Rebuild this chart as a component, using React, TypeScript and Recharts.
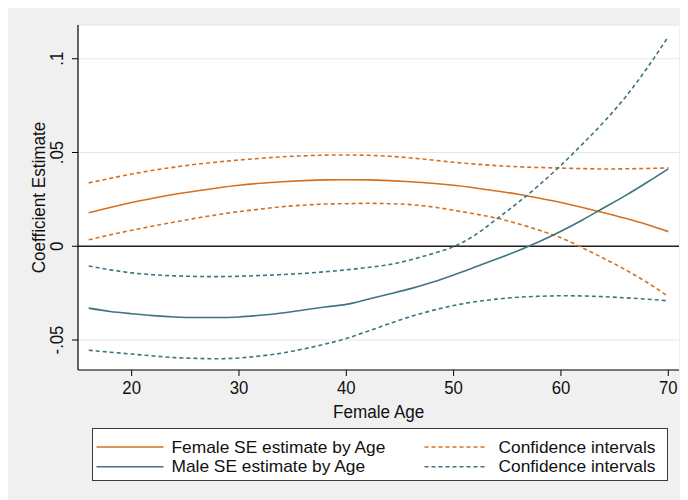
import React from 'react';
import { ComposedChart, Line, XAxis, YAxis, CartesianGrid, ReferenceLine, Legend } from 'recharts';

const ages = [16, 18, 20, 22, 24, 26, 28, 30, 32, 34, 36, 38, 40, 42, 44, 46, 48, 50, 52, 54, 56, 58, 60, 62, 64, 66, 68, 70];

const femaleEst = [0.0179, 0.0207, 0.0233, 0.0256, 0.0277, 0.0295, 0.0311, 0.0325, 0.0336, 0.0344, 0.0350, 0.0354, 0.0355, 0.0354, 0.0350, 0.0344, 0.0336, 0.0325, 0.0311, 0.0295, 0.0277, 0.0256, 0.0233, 0.0207, 0.0179, 0.0149, 0.0116, 0.0078];
const femaleUpper = [0.0338, 0.0362, 0.0385, 0.0405, 0.0422, 0.0437, 0.0449, 0.0460, 0.0469, 0.0477, 0.0482, 0.0486, 0.0487, 0.0485, 0.0480, 0.0471, 0.0460, 0.0448, 0.0438, 0.0430, 0.0424, 0.0420, 0.0417, 0.0414, 0.0412, 0.0413, 0.0415, 0.0418];
const femaleLower = [0.0034, 0.0061, 0.0085, 0.0108, 0.0129, 0.0150, 0.0168, 0.0185, 0.0198, 0.0211, 0.0219, 0.0225, 0.0227, 0.0229, 0.0227, 0.0222, 0.0210, 0.0192, 0.0172, 0.0150, 0.0120, 0.0085, 0.0045, -0.0008, -0.0065, -0.0125, -0.0192, -0.0268];

const maleEst = [-0.0330, -0.0348, -0.0360, -0.0370, -0.0377, -0.0380, -0.0380, -0.0377, -0.0368, -0.0356, -0.0340, -0.0324, -0.0310, -0.0283, -0.0255, -0.0226, -0.0192, -0.0153, -0.0111, -0.0068, -0.0024, 0.0025, 0.0080, 0.0140, 0.0205, 0.0270, 0.0340, 0.0413];
const maleUpper = [-0.0105, -0.0126, -0.0142, -0.0152, -0.0158, -0.0161, -0.0162, -0.0160, -0.0156, -0.0151, -0.0145, -0.0136, -0.0126, -0.0113, -0.0098, -0.0072, -0.0040, -0.0002, 0.0060, 0.0145, 0.0233, 0.0328, 0.0432, 0.0545, 0.0663, 0.0795, 0.0948, 0.1118];
const maleLower = [-0.0555, -0.0565, -0.0575, -0.0585, -0.0594, -0.0598, -0.0600, -0.0596, -0.0585, -0.0570, -0.0548, -0.0522, -0.0492, -0.0453, -0.0413, -0.0375, -0.0343, -0.0316, -0.0296, -0.0282, -0.0272, -0.0267, -0.0264, -0.0265, -0.0269, -0.0275, -0.0282, -0.0291];

const xTicks = [20, 30, 40, 50, 60, 70];
const yTicks = [-0.05, 0, 0.05, 0.1];

const legendLabels = ['Female SE estimate by Age', 'Male SE estimate by Age', 'Confidence intervals', 'Confidence intervals'];

const ORANGE = '#d5701f';
const TEAL = '#3f7481';
const FONT = '"Liberation Sans", Arial, Helvetica, sans-serif';
const SQ = 0.9;

const data = ages.map((a, i) => ({
  age: a,
  fEst: femaleEst[i],
  fUp: femaleUpper[i],
  fLo: femaleLower[i],
  mEst: maleEst[i],
  mUp: maleUpper[i],
  mLo: maleLower[i],
}));

const fmtY = (v: number) => {
  if (v === 0) return '0';
  const s = String(Math.abs(v)).replace(/^0/, '');
  return (v < 0 ? '-' : '') + s;
};

const XTick = (props: any) => {
  const cx = props.payload?.coordinate ?? props.x;
  const by = 386;
  return (
    <text x={0} y={0} textAnchor="middle" fontFamily={FONT} fontSize={18.6} fill="#111"
      transform={`translate(${cx} ${by}) scale(${SQ} 1)`}>
      {props.payload.value}
    </text>
  );
};

const YTick = (props: any) => {
  const cy = props.payload?.coordinate ?? props.y;
  const bx = 55.3;
  return (
    <text x={0} y={0} textAnchor="middle" fontFamily={FONT} fontSize={18.6} fill="#111"
      transform={`translate(${bx} ${cy}) rotate(-90) scale(${SQ} 1)`}>
      {fmtY(props.payload.value)}
    </text>
  );
};

const XLabel = () => (
  <text x={0} y={0} textAnchor="middle" fontFamily={FONT} fontSize={19} fill="#111"
    transform={`translate(370.7 409.5) scale(${SQ} 1)`}>
    Female Age
  </text>
);

const YLabel = () => (
  <text x={0} y={0} textAnchor="middle" fontFamily={FONT} fontSize={19} fill="#111"
    transform={`translate(37 189.5) rotate(-90) scale(${SQ} 1)`}>
    Coefficient Estimate
  </text>
);

const LegendBox = () => {
  const rows = [19.0, 38.8];
  const items = [
    { col: 0, row: 0, color: ORANGE, dash: undefined, label: legendLabels[0] },
    { col: 0, row: 1, color: TEAL, dash: undefined, label: legendLabels[1] },
    { col: 1, row: 0, color: ORANGE, dash: '4 3', label: legendLabels[2] },
    { col: 1, row: 1, color: TEAL, dash: '4 3', label: legendLabels[3] },
  ];
  const cols = [{ x1: 3.5, x2: 70.5, tx: 79.5 }, { x1: 331.5, x2: 394.5, tx: 406.5 }];
  return (
    <div style={{ width: 576, height: 53, border: '1px solid #3a3a3a', background: '#fff', boxSizing: 'border-box' }}>
      <svg width={574} height={51} style={{ display: 'block' }}>
        {items.map((it, i) => {
          const c = cols[it.col];
          const y = rows[it.row] - 1;
          return (
            <g key={i}>
              <line x1={c.x1} x2={c.x2} y1={y} y2={y} stroke={it.color} strokeWidth={1.6} strokeDasharray={it.dash} />
              <text x={0} y={0} fontFamily={FONT} fontSize={17} fill="#111"
                transform={`translate(${c.tx - 1} ${y + 5.6}) scale(1.02 1)`}>
                {it.label}
              </text>
            </g>
          );
        })}
      </svg>
    </div>
  );
};

export default function App() {
  return (
    <div style={{ width: 680, height: 492, background: '#f0f0f0', position: 'relative' }}>
      <ComposedChart width={680} height={492} data={data} margin={{ top: 17, right: 9, left: 0, bottom: 80 }}>
        <CartesianGrid vertical={false} stroke="#e6e6e6" strokeWidth={1.2} fill="#ffffff" />
        <XAxis dataKey="age" type="number" domain={[15, 71]} ticks={xTicks} allowDataOverflow
          height={50} tickSize={6} stroke="#000" axisLine={{ stroke: '#000', strokeWidth: 1.2 }}
          tickLine={{ stroke: '#000' }} tick={<XTick />} label={<XLabel />} interval={0} />
        <YAxis type="number" domain={[-0.066, 0.118]} ticks={yTicks} allowDataOverflow width={70}
          tickSize={6} stroke="#000" axisLine={{ stroke: '#000', strokeWidth: 1.2 }}
          tickLine={{ stroke: '#000' }} tick={<YTick />} label={<YLabel />} interval={0} />
        <ReferenceLine y={0} stroke="#222" strokeWidth={1.5} />
        <Line type="monotone" dataKey="fEst" stroke={ORANGE} strokeWidth={1.6} dot={false} isAnimationActive={false} />
        <Line type="monotone" dataKey="fUp" stroke={ORANGE} strokeWidth={1.6} strokeDasharray="4 3" dot={false} isAnimationActive={false} />
        <Line type="monotone" dataKey="fLo" stroke={ORANGE} strokeWidth={1.6} strokeDasharray="4 3" dot={false} isAnimationActive={false} />
        <Line type="monotone" dataKey="mEst" stroke={TEAL} strokeWidth={1.6} dot={false} isAnimationActive={false} />
        <Line type="monotone" dataKey="mUp" stroke={TEAL} strokeWidth={1.6} strokeDasharray="4 3" dot={false} isAnimationActive={false} />
        <Line type="monotone" dataKey="mLo" stroke={TEAL} strokeWidth={1.6} strokeDasharray="4 3" dot={false} isAnimationActive={false} />
        <Legend layout="horizontal" verticalAlign="middle" align="center" content={<LegendBox />}
          wrapperStyle={{ position: 'absolute', left: 83.5, top: 420, width: 576, height: 53, margin: 0, padding: 0 }} />
      </ComposedChart>
    </div>
  );
}
